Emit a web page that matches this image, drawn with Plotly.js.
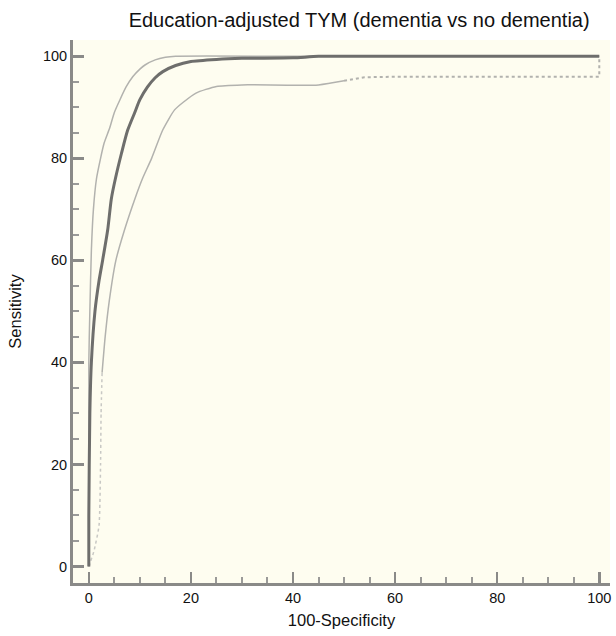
<!DOCTYPE html>
<html>
<head>
<meta charset="utf-8">
<script src="https://cdn.plot.ly/plotly-3.0.1.min.js"></script>
<style>html,body{margin:0;padding:0;background:#fff;}#chart{width:616px;height:636px;}</style>
</head>
<body>
<div id="chart"></div>
<script>
// ROC curve (100-Specificity vs Sensitivity)
var rocX = [0, 0, 0.2, 0.5, 1.2, 2, 2.7, 3.7, 4.4, 5.2, 6.4, 7.6, 9, 10, 11.5, 13, 14.5, 17, 20, 25, 30, 40, 45, 60, 80, 100];
var rocY = [0, 10, 30, 40, 50, 56, 60, 66, 72, 76, 81, 85.5, 89, 91.5, 94, 95.8, 97, 98.2, 99, 99.4, 99.6, 99.7, 100, 100, 100, 100];
// Upper 95% confidence bound
var upX = [0, 0, 0.2, 0.5, 0.9, 1.5, 2.3, 3, 4.1, 5, 6.1, 7.3, 8.6, 10, 11, 13, 15, 17, 40, 70, 100];
var upY = [0, 40, 50, 62, 70, 76, 80, 83, 86, 89, 91.5, 94, 96, 97.5, 98.3, 99.3, 99.8, 100, 100, 100, 100];
// Lower 95% confidence bound: faint low part, curved middle part, dotted tail
var loLowX = [0, 1, 2, 2.3, 2.4, 2.6];
var loLowY = [0, 3, 8, 20, 30, 38];
var loMidX = [2.6, 3.2, 4, 5.3, 7, 9, 10.5, 12.3, 14.5, 16.8, 18.5, 21, 25, 30, 45, 50];
var loMidY = [38, 45, 52, 60, 66, 72, 76, 80, 85.6, 89.5, 91, 92.8, 94.1, 94.4, 94.4, 95.2];
var loTailX = [50, 54, 60, 80, 100, 100];
var loTailY = [95.2, 95.9, 96, 96, 96, 100];

var tickVals = [0, 20, 40, 60, 80, 100];
var tickText = ['0', '20', '40', '60', '80', '100'];
var FONT = 'Liberation Sans, Arial, Helvetica, sans-serif';

var ciColor = '#b2b2ae';
var traces = [
  {x: loLowX, y: loLowY, type: 'scatter', mode: 'lines', line: {color: '#c8c8c4', width: 1.5, dash: 'dot', shape: 'spline', smoothing: 0.5}, hoverinfo: 'skip'},
  {x: loMidX, y: loMidY, type: 'scatter', mode: 'lines', line: {color: ciColor, width: 1.5, shape: 'spline', smoothing: 0.6}, hoverinfo: 'skip'},
  {x: loTailX, y: loTailY, type: 'scatter', mode: 'lines', line: {color: ciColor, width: 2, dash: 'dot', shape: 'linear'}, hoverinfo: 'skip'},
  {x: upX, y: upY, type: 'scatter', mode: 'lines', line: {color: ciColor, width: 1.5, shape: 'spline', smoothing: 0.6}, hoverinfo: 'skip'},
  {x: rocX, y: rocY, type: 'scatter', mode: 'lines', line: {color: '#6e6e6c', width: 3, shape: 'spline', smoothing: 0.6}, hoverinfo: 'skip'}
];

var axisCommon = {
  showgrid: false, zeroline: false, showline: true, linecolor: '#8a8a88', linewidth: 3,
  ticks: 'inside', tickcolor: '#8a8a88', tickwidth: 2.5, ticklen: 11,
  tickvals: tickVals, ticktext: tickText,
  tickfont: {family: FONT, size: 14.5, color: '#111'},
  minor: {ticks: 'inside', dtick: 5, tick0: 0, ticklen: 6, tickcolor: '#9a9a98', tickwidth: 2, showgrid: false},
  mirror: false, fixedrange: true
};

var layout = {
  width: 616, height: 636,
  margin: {l: 73, r: 6, t: 40, b: 53},
  paper_bgcolor: '#ffffff',
  plot_bgcolor: '#fefdf0',
  showlegend: false,
  title: {text: 'Education-adjusted TYM (dementia vs no dementia)', x: 0.583, xanchor: 'center', y: 0.968, yanchor: 'middle',
          font: {family: FONT, size: 20, color: '#111'}},
  xaxis: Object.assign({}, axisCommon, {range: [-3.1, 102.1],
          title: {text: '100-Specificity', standoff: 10, font: {family: FONT, size: 16.5, color: '#111'}}}),
  yaxis: Object.assign({}, axisCommon, {range: [-3.24, 103.2],
          title: {text: 'Sensitivity', standoff: 18, font: {family: FONT, size: 16.5, color: '#111'}}})
};

Plotly.newPlot('chart', traces, layout, {displayModeBar: false, staticPlot: true});
</script>
</body>
</html>
